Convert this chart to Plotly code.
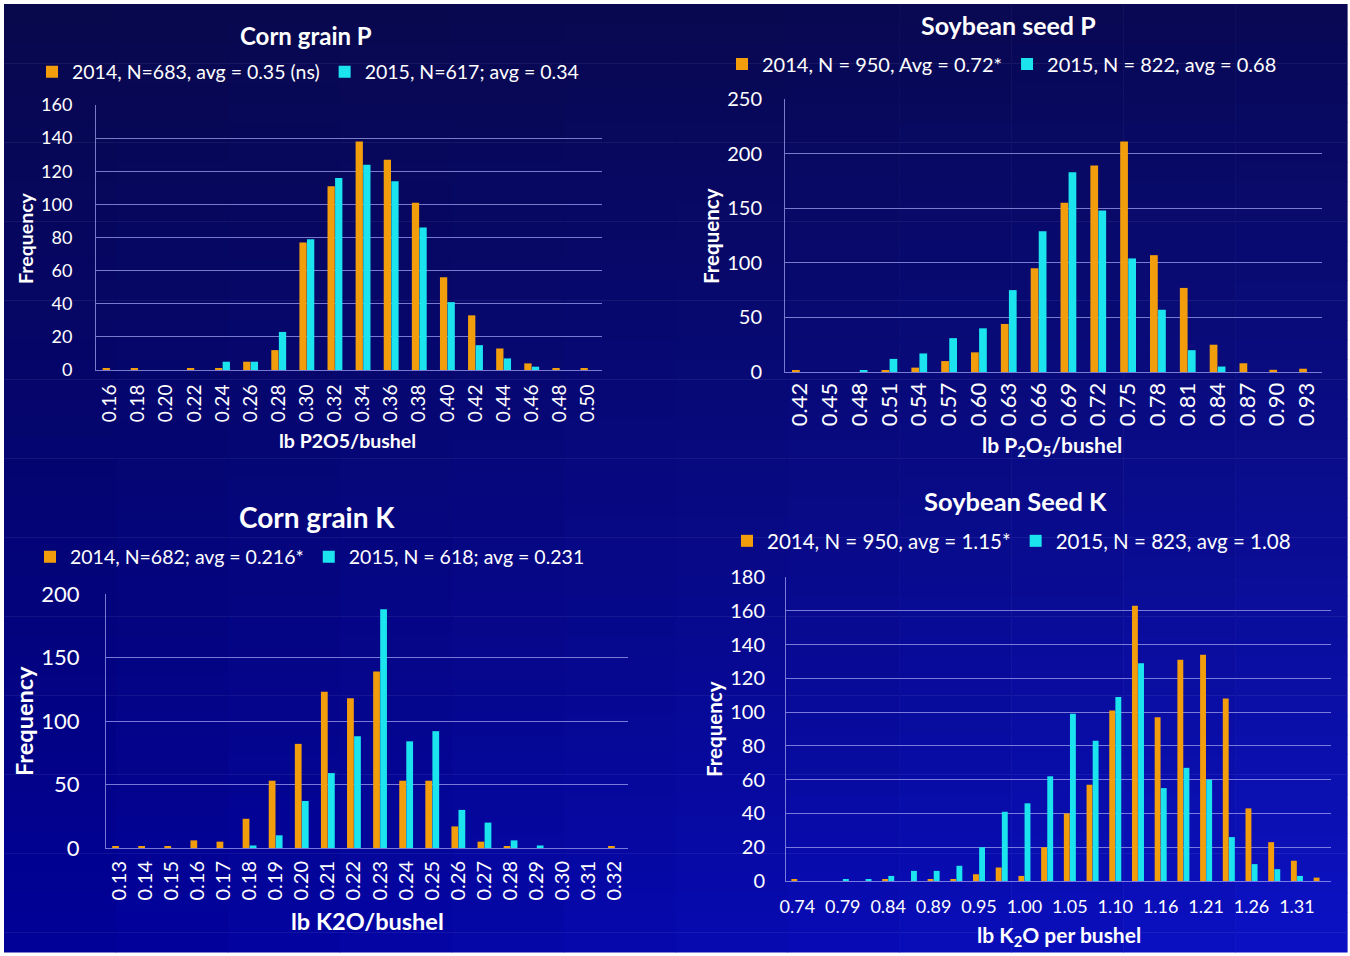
import plotly.graph_objects as go

# ---------------- data ----------------
p_corn_cats = ["0.16", "0.18", "0.20", "0.22", "0.24", "0.26", "0.28", "0.30", "0.32",
               "0.34", "0.36", "0.38", "0.40", "0.42", "0.44", "0.46", "0.48", "0.50"]
p_corn_2014 = [1, 1, 0, 1, 1, 5, 12, 77, 111, 138, 127, 101, 56, 33, 13, 4, 1, 1]
p_corn_2015 = [0, 0, 0, 0, 5, 5, 23, 79, 116, 124, 114, 86, 41, 15, 7, 2, 0, 0]

p_soy_cats = ["0.42", "0.45", "0.48", "0.51", "0.54", "0.57", "0.60", "0.63", "0.66",
              "0.69", "0.72", "0.75", "0.78", "0.81", "0.84", "0.87", "0.90", "0.93"]
p_soy_2014 = [1, 0, 0, 1, 4, 10, 18, 44, 95, 155, 189, 211, 107, 77, 25, 8, 2, 3]
p_soy_2015 = [0, 0, 1, 12, 17, 31, 40, 75, 129, 183, 148, 104, 57, 20, 5, 0, 0, 0]

k_corn_cats = ["0.13", "0.14", "0.15", "0.16", "0.17", "0.18", "0.19", "0.20", "0.21", "0.22",
               "0.23", "0.24", "0.25", "0.26", "0.27", "0.28", "0.29", "0.30", "0.31", "0.32"]
k_corn_2014 = [1, 1, 1, 6, 5, 23, 53, 82, 123, 118, 139, 53, 53, 17, 5, 1, 0, 0, 0, 1]
k_corn_2015 = [0, 0, 0, 0, 0, 2, 10, 37, 59, 88, 188, 84, 92, 30, 20, 6, 2, 0, 0, 0]

k_soy_cats = ["0.74", "0.77", "0.79", "0.82", "0.84", "0.87", "0.89", "0.92", "0.95", "0.97",
              "1.00", "1.02", "1.05", "1.08", "1.10", "1.13", "1.16", "1.18", "1.21", "1.23",
              "1.26", "1.29", "1.31", "1.34"]
k_soy_ticks = ["0.74", "0.79", "0.84", "0.89", "0.95", "1.00", "1.05", "1.10", "1.16",
               "1.21", "1.26", "1.31"]
k_soy_2014 = [1, 0, 0, 0, 1, 0, 1, 1, 4, 8, 3, 20, 40, 57, 101, 163, 97, 131, 134, 108, 43, 23, 12, 2]
k_soy_2015 = [0, 0, 1, 1, 3, 6, 6, 9, 20, 41, 46, 62, 99, 83, 109, 129, 55, 67, 60, 26, 10, 7, 3, 0]

legend_text = {
    "p_corn": ["2014, N=683, avg = 0.35 (ns)", "2015, N=617; avg = 0.34"],
    "p_soy": ["2014, N = 950, Avg = 0.72*", "2015, N = 822, avg = 0.68"],
    "k_corn": ["2014, N=682; avg = 0.216*", "2015, N = 618; avg = 0.231"],
    "k_soy": ["2014, N = 950, avg = 1.15*", "2015, N = 823, avg = 1.08"],
}

# ---------------- style ----------------
W, H = 1350, 956
FONT = "Lato, 'Open Sans', sans-serif"
ORANGE = "#F29E0C"
CYAN = "#1BE4EE"
GRID = "rgba(160,160,240,0.75)"


def px(x):
    return x / W


def py(y):
    return 1 - y / H


fig = go.Figure()

panels = [
    # key, cats, y14, y15, xaxis, yaxis, xdom(px), ydom(px), yrange, dtick, legend
    ("p_corn", p_corn_cats, p_corn_2014, p_corn_2015, "x", "y", (96, 602), (105, 370), 160, 20, "legend"),
    ("p_soy", p_soy_cats, p_soy_2014, p_soy_2015, "x2", "y2", (785, 1322), (99, 372), 250, 50, "legend2"),
    ("k_corn", k_corn_cats, k_corn_2014, k_corn_2015, "x3", "y3", (106, 628), (594, 848), 200, 50, "legend3"),
    ("k_soy", k_soy_cats, k_soy_2014, k_soy_2015, "x4", "y4", (786, 1331), (577, 881), 180, 20, "legend4"),
]

for key, cats, y14, y15, xa, ya, xd, yd, ymax, dt, lg in panels:
    fig.add_trace(go.Bar(x=cats, y=y14, name=legend_text[key][0], marker_color=ORANGE,
                         marker_line_width=0, xaxis=xa, yaxis=ya, legend=lg))
    fig.add_trace(go.Bar(x=cats, y=y15, name=legend_text[key][1], marker_color=CYAN,
                         marker_line_width=0, xaxis=xa, yaxis=ya, legend=lg))

layout = dict(
    template="none",
    width=W, height=H,
    margin=dict(l=0, r=0, t=0, b=0, pad=0),
    paper_bgcolor="white",
    plot_bgcolor="rgba(0,0,0,0)",
    barmode="group",
    bargap=0.46,
    bargroupgap=0.04,
    font=dict(family=FONT, color="white"),
    showlegend=True,
    hovermode=False,
)

# per-axis: (x tick size, x standoff, y tick size, y standoff)
tick_cfg = {"x": (19, 6, 18, 19), "x2": (22, 1, 20, 18), "x3": (20, 4, 22, 21), "x4": (18, 9, 20, 16)}
for key, cats, y14, y15, xa, ya, xd, yd, ymax, dt, lg in panels:
    xname = "xaxis" + xa[1:]
    yname = "yaxis" + ya[1:]
    xs, xso, ys, yso = tick_cfg[xa]
    xax = dict(domain=[px(xd[0]), px(xd[1])], anchor=ya, type="category", automargin=False,
               showgrid=False, zeroline=False, showline=True, linecolor=GRID, linewidth=1,
               ticks="", tickfont=dict(size=xs, color="white", family=FONT),
               tickangle=-90, ticklabelstandoff=xso, fixedrange=True)
    if key == "k_soy":
        xax.update(tickangle=0, tickmode="array", tickvals=k_soy_ticks, ticktext=k_soy_ticks)
    yax = dict(domain=[py(yd[1]), py(yd[0])], anchor=xa, range=[0, ymax], dtick=dt,
               automargin=False,
               showgrid=True, gridcolor=GRID, gridwidth=1, zeroline=False,
               showline=True, linecolor=GRID, linewidth=1, ticks="",
               tickfont=dict(size=ys, color="white", family=FONT), ticklabelstandoff=yso,
               fixedrange=True)
    layout[xname] = xax
    layout[yname] = yax

# legends
legend_pos = {
    "legend": (32, 72, 19.5),
    "legend2": (722, 64, 20),
    "legend3": (30, 557, 19.5),
    "legend4": (727, 541, 20.5),
}
for lg, (lx, ly, fs) in legend_pos.items():
    layout[lg] = dict(x=px(lx), y=py(ly), xanchor="left", yanchor="middle",
                      orientation="h", bgcolor="rgba(0,0,0,0)", borderwidth=0,
                      font=dict(size=fs, color="white", family=FONT),
                      itemclick=False, itemdoubleclick=False, tracegroupgap=0)

fig.update_layout(**layout)

# annotations: titles and axis titles
ann = [
    ("Corn grain P", 306, 35, 24, 0),
    ("Soybean seed P", 1008, 25, 25, 0),
    ("Corn grain K", 317, 517, 28, 0),
    ("Soybean Seed K", 1015, 501, 25.5, 0),
    ("lb P2O5/bushel", 347, 440, 19.5, 0),
    ("lb P<sub>2</sub>O<sub>5</sub>/bushel", 1052, 446, 21, 0),
    ("lb K2O/bushel", 367, 921, 23.5, 0),
    ("lb K<sub>2</sub>O per bushel", 1059, 936, 21, 0),
    ("Frequency", 25, 238, 19.5, -90),
    ("Frequency", 711, 236, 20.5, -90),
    ("Frequency", 24, 721, 23.5, -90),
    ("Frequency", 714, 729, 20.5, -90),
]
for text, x, y, size, ang in ann:
    fig.add_annotation(text="<b>" + text + "</b>", x=px(x), y=py(y), xref="paper", yref="paper",
                       showarrow=False, textangle=ang, xanchor="center", yanchor="middle",
                       font=dict(size=size, color="white", family=FONT))

# gradient background (bands of rectangles)
BX0, BX1, BY0, BY1 = 4, 1347, 4, 952
rows, cols = 48, 12
top_l, top_r = (8, 8, 76), (8, 8, 84)
bot_l, bot_r = (0, 0, 150), (12, 18, 198)
shapes = []
for i in range(rows):
    t = (i + 0.5) / rows
    for j in range(cols):
        s = (j + 0.5) / cols
        tc = [a + (b - a) * s for a, b in zip(top_l, top_r)]
        bc = [a + (b - a) * s for a, b in zip(bot_l, bot_r)]
        c = [int(round(a + (b - a) * t)) for a, b in zip(tc, bc)]
        x0 = BX0 + (BX1 - BX0) * j / cols
        x1 = BX0 + (BX1 - BX0) * (j + 1) / cols
        y0 = BY0 + (BY1 - BY0) * i / rows
        y1 = BY0 + (BY1 - BY0) * (i + 1) / rows
        shapes.append(dict(type="rect", xref="paper", yref="paper", layer="below",
                           x0=px(x0), x1=px(x1 + 0.6), y0=py(y1 + 0.6), y1=py(y0),
                           line=dict(width=0), fillcolor="rgb(%d,%d,%d)" % tuple(c)))
fig.update_layout(shapes=shapes)

fig.write_html(
    "out.html",
    config={"displayModeBar": False},
    post_script="document.body.style.margin='0px';document.documentElement.style.overflow='hidden';",
)
